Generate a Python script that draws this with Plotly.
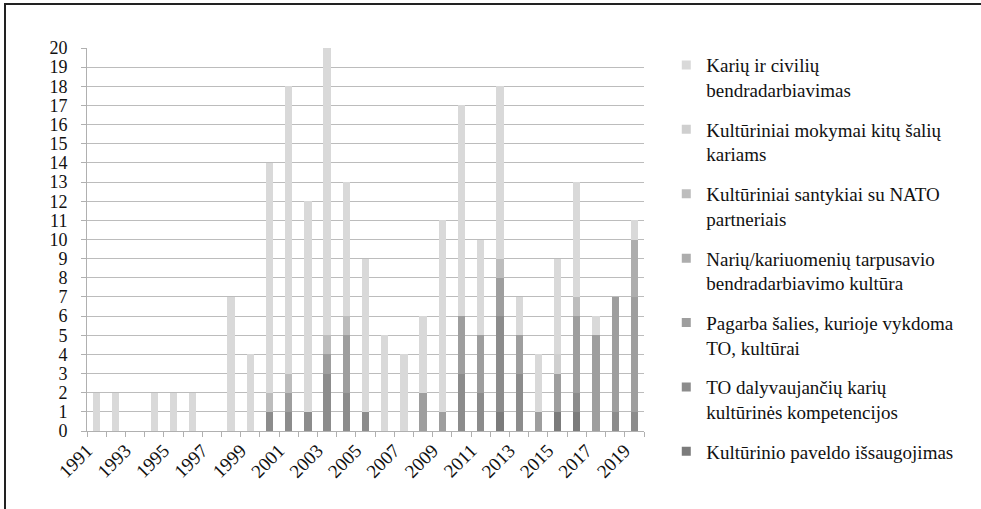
import plotly.graph_objects as go

years = list(range(1991, 2020))

# series values per year (1991..2019)
karai_civiliai = [2, 2, 0, 2, 2, 2, 0, 7, 4, 12, 15, 11, 15, 7, 8, 5, 4, 4, 10, 11, 5, 9, 2, 3, 5, 6, 1, 0, 1]
mokymai =        [0, 0, 0, 0, 0, 0, 0, 0, 0, 0, 0, 0, 0, 0, 0, 0, 0, 0, 0, 0, 0, 0, 0, 0, 1, 0, 0, 0, 0]
santykiai_nato = [0, 0, 0, 0, 0, 0, 0, 0, 0, 1, 1, 0, 1, 1, 0, 0, 0, 0, 0, 0, 0, 1, 0, 0, 0, 1, 0, 0, 0]
nariu_kultura =  [0, 0, 0, 0, 0, 0, 0, 0, 0, 0, 0, 0, 0, 0, 0, 0, 0, 0, 0, 0, 0, 0, 0, 0, 0, 0, 0, 0, 3]
pagarba =        [0, 0, 0, 0, 0, 0, 0, 0, 0, 0, 1, 0, 1, 3, 0, 0, 0, 2, 1, 3, 3, 2, 2, 1, 2, 4, 5, 6, 6]
to_kompetencijos=[0, 0, 0, 0, 0, 0, 0, 0, 0, 1, 1, 1, 3, 2, 1, 0, 0, 0, 0, 3, 2, 5, 3, 0, 0, 1, 0, 1, 1]
paveldas =       [0, 0, 0, 0, 0, 0, 0, 0, 0, 0, 0, 0, 0, 0, 0, 0, 0, 0, 0, 0, 0, 1, 0, 0, 1, 1, 0, 0, 0]

# bottom -> top
series = [
    ("Kultūrinio paveldo išsaugojimas", paveldas, "#7b7b7b"),
    ("TO dalyvaujančių karių<br>kultūrinės kompetencijos", to_kompetencijos, "#8c8c8c"),
    ("Pagarba šalies, kurioje vykdoma<br>TO, kultūrai", pagarba, "#9e9e9e"),
    ("Narių/kariuomenių tarpusavio<br>bendradarbiavimo kultūra", nariu_kultura, "#adadad"),
    ("Kultūriniai santykiai su NATO<br>partneriais", santykiai_nato, "#bdbdbd"),
    ("Kultūriniai mokymai kitų šalių<br>kariams", mokymai, "#cfcfcf"),
    ("Karių ir civilių<br>bendradarbiavimas", karai_civiliai, "#d9d9d9"),
]

tick_years = list(range(1991, 2020, 2))
boundaries = [y - 0.5 for y in years] + [years[-1] + 0.5]

fig = go.Figure()
n = len(series)
for i, (name, vals, color) in enumerate(series):
    fig.add_trace(go.Bar(
        x=years, y=vals, name=name, marker=dict(color=color, line=dict(width=0)),
        showlegend=False, legendgroup=f"g{i}"))
    fig.add_trace(go.Scatter(
        x=[None], y=[None], mode="markers", name=name, legendgroup=f"g{i}",
        legendrank=n - i,
        marker=dict(symbol="square", size=9, color=color)))

serif = "Times New Roman"
fig.update_layout(
    width=981, height=509,
    margin=dict(l=87, r=337, t=48, b=78, autoexpand=False),
    paper_bgcolor="white", plot_bgcolor="white",
    barmode="stack", bargap=0.62,
    font=dict(family=serif, size=18, color="#111111"),
    showlegend=True,
    legend=dict(
        x=1.040, xanchor="left", y=1.005, yanchor="top",
        traceorder="grouped", tracegroupgap=12,
        valign="top", itemwidth=30, maxheight=490,
        font=dict(family=serif, size=19, color="#111111"),
        bgcolor="rgba(0,0,0,0)",
    ),
    xaxis=dict(
        range=[1990.5, 2019.5], tickmode="array",
        tickvals=[y - 0.5 for y in tick_years],
        ticktext=[str(y) for y in tick_years], tickangle=-45,
        ticks="", showgrid=False, zeroline=False, automargin=False,
        showline=True, linecolor="#b0b0b0", linewidth=1,
        tickfont=dict(family=serif, size=19, color="#111111"),
        minor=dict(tickmode="array", tickvals=boundaries, ticks="outside",
                   ticklen=5, tickcolor="#b0b0b0", showgrid=False),
    ),
    yaxis=dict(
        range=[0, 20], dtick=1, tick0=0, ticks="outside", ticklen=5,
        tickcolor="#b0b0b0", showgrid=True, gridcolor="#bcbcbc", gridwidth=1,
        zeroline=False, showline=True, linecolor="#b0b0b0", linewidth=1,
        automargin=False, ticklabelstandoff=10,
        tickfont=dict(family=serif, size=18, color="#111111"),
    ),
    shapes=[dict(type="rect", xref="paper", yref="paper",
                 x0=(5 - 87) / 557, x1=(990 - 87) / 557,
                 y0=(431 - 520) / 383, y1=1 + (48 - 4) / 383,
                 line=dict(color="#222222", width=2), layer="below")],
)

fig.write_html("out.html", config={"displayModeBar": False},
               post_script="document.body.style.margin='0';")
